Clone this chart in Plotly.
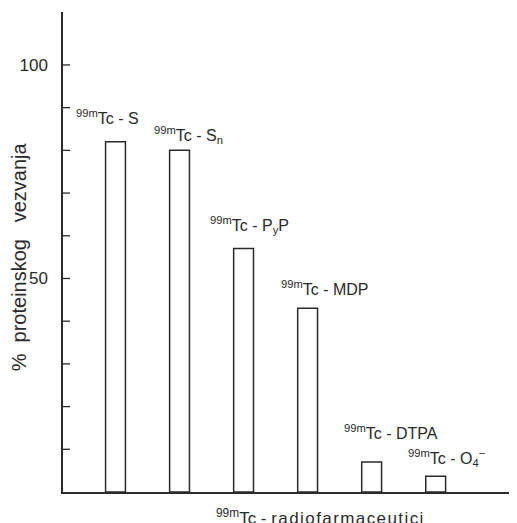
import plotly.graph_objects as go

categories = ["Tc-S", "Tc-Sn", "Tc-PyP", "Tc-MDP", "Tc-DTPA", "Tc-O4"]
label_texts = [
    "<sup>99m</sup>Tc - S",
    "<sup>99m</sup>Tc - S<sub>n</sub>",
    "<sup>99m</sup>Tc - P<sub>y</sub>P",
    "<sup>99m</sup>Tc - MDP",
    "<sup>99m</sup>Tc - DTPA",
    "<sup>99m</sup>Tc - O<sub>4</sub><sup>−</sup>",
]
values = [82, 80, 57, 43, 7, 3.7]
tick_values = [50, 100]
tick_labels = ["50", "100"]
minor_tick_values = [10, 20, 30, 40, 50, 60, 70, 80, 90, 100]
x_title_word = "radiofarmaceutici"

# style: label offsets in pixels (x, y)
label_xshift = [-8, 9, 6, 17, 19, 11]
label_yshift = [13, 2, 11, 8, 18, 5]

FONT = "Liberation Sans, Arial, sans-serif"
INK = "#2a2a2a"
X_RANGE = [-0.82, 6.27]
TICK_LEN_UNITS = 0.11  # ~7 px inward tick marks

xpos = list(range(len(categories)))

fig = go.Figure()
fig.add_trace(go.Bar(
    x=xpos, y=values, width=0.31,
    marker=dict(color="white", line=dict(color=INK, width=1.5)),
    showlegend=False, hoverinfo="skip",
))

# inward tick marks on the y axis, built from the tick value list
tx, ty = [], []
for v in minor_tick_values:
    tx += [X_RANGE[0], X_RANGE[0] + TICK_LEN_UNITS, None]
    ty += [v, v, None]
fig.add_trace(go.Scatter(
    x=tx, y=ty, mode="lines", line=dict(color=INK, width=1.3),
    showlegend=False, hoverinfo="skip",
))

for i, (t, v) in enumerate(zip(label_texts, values)):
    fig.add_annotation(
        x=i, y=v, xref="x", yref="y", text=t, showarrow=False,
        xanchor="center", yanchor="bottom",
        xshift=label_xshift[i], yshift=label_yshift[i],
        font=dict(family=FONT, size=16, color=INK),
    )

fig.add_annotation(
    x=-0.098, y=0.49, xref="paper", yref="paper",
    text="%  proteinskog   vezvanja", textangle=-90, showarrow=False,
    xanchor="center", yanchor="middle",
    font=dict(family=FONT, size=20, color=INK),
)
fig.add_annotation(
    x=0.565, y=-0.052, xref="paper", yref="paper",
    text="<sup>99m</sup>Tc - " + "\u200a".join(x_title_word),
    showarrow=False,
    xanchor="center", yanchor="middle",
    font=dict(family=FONT, size=17, color=INK),
)

# page body has an 8px margin, so the figure is sized/offset to compensate
fig.update_layout(
    width=509, height=515,
    margin=dict(l=55, r=0, t=4, b=31),
    paper_bgcolor="white", plot_bgcolor="white",
    xaxis=dict(range=X_RANGE, showline=True, linecolor=INK, linewidth=1.5,
               showticklabels=False, ticks="", showgrid=False, zeroline=False),
    yaxis=dict(range=[0, 112.4], showline=True, linecolor=INK, linewidth=1.5,
               tickmode="array", tickvals=tick_values, ticktext=tick_labels,
               ticks="", ticklabelstandoff=10,
               tickfont=dict(family=FONT, size=17, color=INK),
               showgrid=False, zeroline=False),
)

fig.write_html("out.html")
